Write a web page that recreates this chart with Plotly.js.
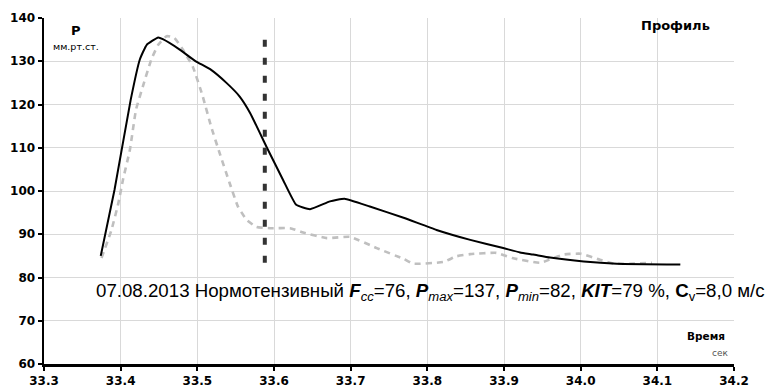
<!DOCTYPE html>
<html>
<head>
<meta charset="utf-8">
<script src="https://cdn.plot.ly/plotly-3.0.1.min.js"></script>
<style>
  html, body { margin: 0; padding: 0; background: #fff; }
  #chart { width: 769px; height: 392px; }
  /* heavy tick numerals */
  #chart .xtick text, #chart .ytick text { font-weight: 700 !important; }
</style>
</head>
<body>
<div id="chart"></div>
<script>
// Pulse pressure profile (black) and reference profile (grey dashes)
const profileTime = [33.374, 33.392, 33.413, 33.425, 33.434, 33.449, 33.455, 33.477, 33.497, 33.518,
  33.538, 33.555, 33.569, 33.590, 33.612, 33.629, 33.647, 33.673, 33.692, 33.725, 33.769,
  33.812, 33.856, 33.899, 33.921, 33.938, 33.960, 34.004, 34.047, 34.130];
const profilePressure = [85.0, 100.3, 121.0, 130.4, 133.8, 135.5, 135.1, 132.7, 130.1, 128.0,
  125.0, 121.9, 118.0, 110.3, 102.5, 96.8, 95.8, 97.6, 98.2, 96.4, 93.8,
  91.0, 88.7, 86.8, 85.8, 85.3, 84.6, 83.7, 83.2, 83.0];

const refTime = [33.375, 33.388, 33.397, 33.403, 33.412, 33.420, 33.429, 33.440, 33.449, 33.460,
  33.470, 33.481, 33.494, 33.507, 33.518, 33.529, 33.542, 33.553, 33.564, 33.577, 33.595,
  33.621, 33.638, 33.669, 33.699, 33.734, 33.769, 33.782, 33.821, 33.838, 33.856, 33.890,
  33.911, 33.947, 33.977, 34.000, 34.025, 34.043, 34.069, 34.093];
const refPressure = [84.5, 91.0, 97.2, 102.6, 109.5, 118.8, 124.2, 130.4, 133.8, 135.8,
  135.4, 132.7, 128.8, 121.9, 114.9, 108.8, 101.9, 96.4, 93.4, 91.7, 91.4,
  91.4, 90.4, 89.1, 89.4, 86.8, 84.3, 83.2, 83.6, 84.9, 85.4, 85.7,
  84.5, 83.4, 85.3, 85.5, 84.1, 83.2, 83.2, 83.4];

// Boundary of the systolic phase
const phaseTime = [33.588, 33.588];
const phasePressure = [83.4, 135.5];

const xTicks = [33.3, 33.4, 33.5, 33.6, 33.7, 33.8, 33.9, 34.0, 34.1, 34.2];
const xTickText = ['33.3', '33.4', '33.5', '33.6', '33.7', '33.8', '33.9', '34.0', '34.1', '34.2'];
const yTicks = [60, 70, 80, 90, 100, 110, 120, 130, 140];
const yTickText = ['60', '70', '80', '90', '100', '110', '120', '130', '140'];

const traces = [
  {
    x: refTime, y: refPressure, type: 'scatter', mode: 'lines',
    line: { color: '#bfbfbf', width: 2.6, dash: '6px,5px', shape: 'spline', smoothing: 0.4 },
    hoverinfo: 'skip'
  },
  {
    x: profileTime, y: profilePressure, type: 'scatter', mode: 'lines',
    line: { color: '#000', width: 2, shape: 'spline', smoothing: 0.4 },
    hoverinfo: 'skip'
  },
  {
    x: phaseTime, y: phasePressure, type: 'scatter', mode: 'lines',
    line: { color: '#333', width: 4, dash: '7px,11px' },
    hoverinfo: 'skip'
  }
];

const sans = 'Liberation Sans, Arial, sans-serif';
const wide = 'DejaVu Sans, Liberation Sans, sans-serif';
const tickFont = { family: wide, size: 12, color: '#000', weight: 700 };

const layout = {
  width: 769, height: 392,
  margin: { l: 44, r: 35, t: 18, b: 28, pad: 0 },
  paper_bgcolor: '#fff', plot_bgcolor: '#fff',
  showlegend: false,
  xaxis: {
    range: [33.3, 34.2], tickvals: xTicks, ticktext: xTickText,
    showgrid: true, gridcolor: '#d9d9d9', gridwidth: 1,
    zeroline: false, showline: true, linecolor: '#000', linewidth: 2.5,
    ticks: 'outside', ticklen: 4, tickwidth: 2, tickcolor: '#000',
    tickfont: tickFont, fixedrange: true
  },
  yaxis: {
    range: [60, 140], tickvals: yTicks, ticktext: yTickText,
    showgrid: true, gridcolor: '#d9d9d9', gridwidth: 1,
    zeroline: false, showline: true, linecolor: '#000', linewidth: 2.5,
    ticks: 'outside', ticklen: 4, tickwidth: 2, tickcolor: '#000',
    tickfont: tickFont, fixedrange: true
  },
  annotations: [
    { xref: 'paper', yref: 'paper', x: 0.0465, y: 0.965, xanchor: 'center', yanchor: 'middle',
      text: 'P', showarrow: false,
      font: { family: wide, size: 13, color: '#000', weight: 'bold' } },
    { xref: 'paper', yref: 'paper', x: 0.0465, y: 0.917, xanchor: 'center', yanchor: 'middle',
      text: 'мм.рт.ст.', showarrow: false,
      font: { family: wide, size: 9.5, color: '#000' } },
    { xref: 'paper', yref: 'paper', x: 0.915, y: 0.977, xanchor: 'center', yanchor: 'middle',
      text: 'Профиль', showarrow: false,
      font: { family: wide, size: 13, color: '#000', weight: 'bold' } },
    { xref: 'paper', yref: 'paper', x: 1.0, y: 0.081, xanchor: 'right', yanchor: 'middle', xshift: -7,
      text: 'Время', showarrow: false,
      font: { family: wide, size: 10.5, color: '#000', weight: 'bold' } },
    { xref: 'paper', yref: 'paper', x: 1.0, y: 0.032, xanchor: 'right', yanchor: 'middle', xshift: -4,
      text: 'сек', showarrow: false,
      font: { family: wide, size: 9, color: '#555' } },
    { xref: 'paper', yref: 'paper', x: 0.0725, y: 0.208, xanchor: 'left', yanchor: 'middle',
      text: '07.08.2013 Нормотензивный <b><i>F</i></b><sub><i>cc</i></sub>=76, ' +
            '<b><i>P</i></b><sub><i>max</i></sub>=137, <b><i>P</i></b><sub><i>min</i></sub>=82, ' +
            '<b><i>KIT</i></b>=79 %, <b>C</b><sub>v</sub>=8,0 м/с',
      showarrow: false,
      font: { family: sans, size: 18.7, color: '#000' } }
  ]
};

Plotly.newPlot('chart', traces, layout, { staticPlot: true, displayModeBar: false });
</script>
</body>
</html>
